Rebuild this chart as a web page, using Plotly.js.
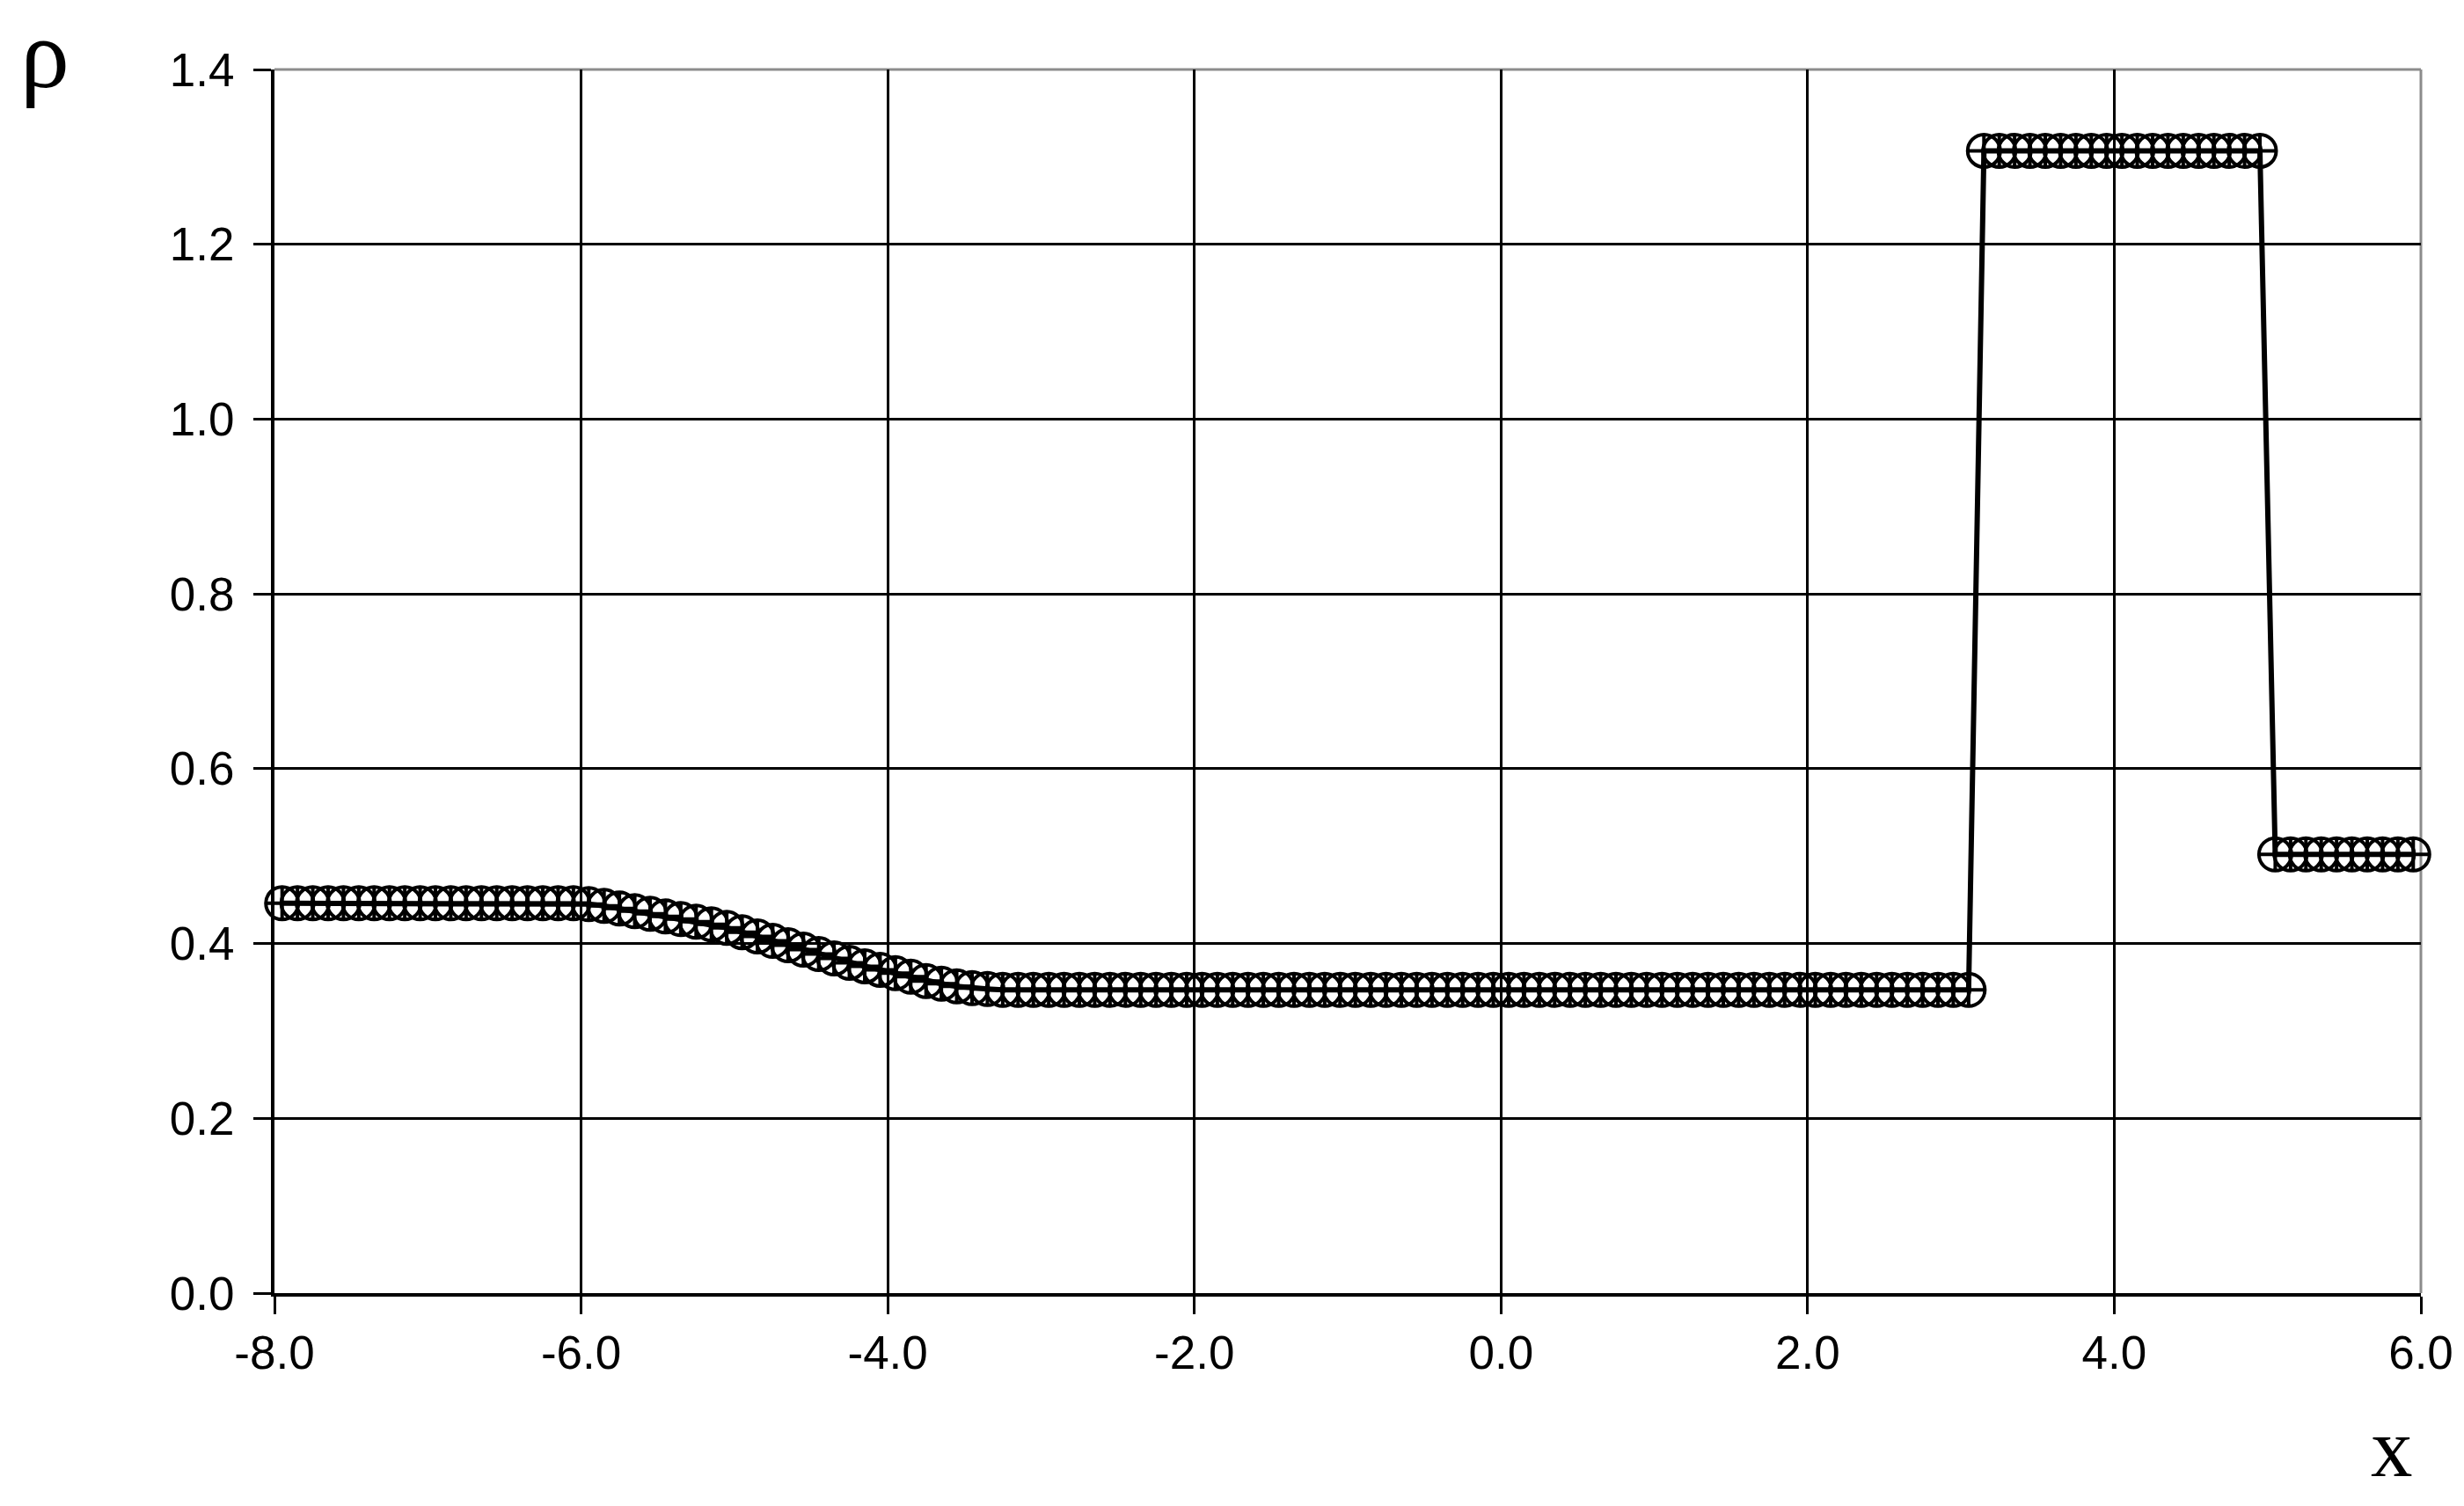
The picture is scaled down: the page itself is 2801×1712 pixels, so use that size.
<!DOCTYPE html>
<html>
<head>
<meta charset="utf-8">
<script src="https://cdn.plot.ly/plotly-3.0.1.min.js"></script>
<style>
  html, body { margin: 0; padding: 0; background: #ffffff; }
  #chart { width: 2801px; height: 1712px; }
</style>
</head>
<body>
<div id="chart"></div>
<script>
// Cell-centre positions of the solution
const xPositions = [
  -7.95, -7.85, -7.75, -7.65, -7.55, -7.45, -7.35, -7.25, -7.15, -7.05,
  -6.95, -6.85, -6.75, -6.65, -6.55, -6.45, -6.35, -6.25, -6.15, -6.05,
  -5.95, -5.85, -5.75, -5.65, -5.55, -5.45, -5.35, -5.25, -5.15, -5.05,
  -4.95, -4.85, -4.75, -4.65, -4.55, -4.45, -4.35, -4.25, -4.15, -4.05,
  -3.95, -3.85, -3.75, -3.65, -3.55, -3.45, -3.35, -3.25, -3.15, -3.05,
  -2.95, -2.85, -2.75, -2.65, -2.55, -2.45, -2.35, -2.25, -2.15, -2.05,
  -1.95, -1.85, -1.75, -1.65, -1.55, -1.45, -1.35, -1.25, -1.15, -1.05,
  -0.95, -0.85, -0.75, -0.65, -0.55, -0.45, -0.35, -0.25, -0.15, -0.05,
   0.05,  0.15,  0.25,  0.35,  0.45,  0.55,  0.65,  0.75,  0.85,  0.95,
   1.05,  1.15,  1.25,  1.35,  1.45,  1.55,  1.65,  1.75,  1.85,  1.95,
   2.05,  2.15,  2.25,  2.35,  2.45,  2.55,  2.65,  2.75,  2.85,  2.95,
   3.05,  3.15,  3.25,  3.35,  3.45,  3.55,  3.65,  3.75,  3.85,  3.95,
   4.05,  4.15,  4.25,  4.35,  4.45,  4.55,  4.65,  4.75,  4.85,  4.95,
   5.05,  5.15,  5.25,  5.35,  5.45,  5.55,  5.65,  5.75,  5.85,  5.95
];

// Density rho
const rhoValues = [
  0.446, 0.446, 0.446, 0.446, 0.446, 0.446, 0.446, 0.446, 0.446, 0.446,
  0.446, 0.446, 0.446, 0.446, 0.446, 0.446, 0.446, 0.446, 0.446, 0.446,
  0.445, 0.443, 0.440, 0.437, 0.434, 0.431, 0.428, 0.425, 0.422, 0.418,
  0.413, 0.408, 0.403, 0.398, 0.393, 0.388, 0.383, 0.378, 0.374, 0.370,
  0.366, 0.362, 0.357, 0.354, 0.351, 0.349, 0.348, 0.347, 0.347, 0.347,
  0.347, 0.347, 0.347, 0.347, 0.347, 0.347, 0.347, 0.347, 0.347, 0.347,
  0.347, 0.347, 0.347, 0.347, 0.347, 0.347, 0.347, 0.347, 0.347, 0.347,
  0.347, 0.347, 0.347, 0.347, 0.347, 0.347, 0.347, 0.347, 0.347, 0.347,
  0.347, 0.347, 0.347, 0.347, 0.347, 0.347, 0.347, 0.347, 0.347, 0.347,
  0.347, 0.347, 0.347, 0.347, 0.347, 0.347, 0.347, 0.347, 0.347, 0.347,
  0.347, 0.347, 0.347, 0.347, 0.347, 0.347, 0.347, 0.347, 0.347, 0.347,
  0.347, 1.307, 1.307, 1.307, 1.307, 1.307, 1.307, 1.307, 1.307, 1.307,
  1.307, 1.307, 1.307, 1.307, 1.307, 1.307, 1.307, 1.307, 1.307, 1.307,
  0.502, 0.502, 0.502, 0.502, 0.502, 0.502, 0.502, 0.502, 0.502, 0.502
];

const xTickValues = [-8, -6, -4, -2, 0, 2, 4, 6];
const xTickLabels = ['-8.0', '-6.0', '-4.0', '-2.0', '0.0', '2.0', '4.0', '6.0'];
const yTickValues = [0, 0.2, 0.4, 0.6, 0.8, 1.0, 1.2, 1.4];
const yTickLabels = ['0.0', '0.2', '0.4', '0.6', '0.8', '1.0', '1.2', '1.4'];

const yTitleText = 'ρ';
const xTitleText = 'x';

const tickFont = { family: '"Liberation Sans", Arial, sans-serif', size: 53, color: '#000000' };

const trace = {
  x: xPositions,
  y: rhoValues,
  type: 'scatter',
  mode: 'lines+markers',
  cliponaxis: false,
  line: { color: '#000000', width: 6 },
  marker: {
    symbol: 'circle-cross-open',
    size: 37,
    color: '#000000',
    line: { color: '#000000', width: 4 }
  },
  hoverinfo: 'skip'
};

const axisCommon = {
  showgrid: true,
  gridcolor: '#000000',
  gridwidth: 3,
  showline: true,
  linecolor: '#000000',
  linewidth: 4,
  ticks: 'outside',
  ticklen: 20,
  tickwidth: 3,
  tickcolor: '#000000',
  zeroline: false,
  tickfont: tickFont,
  tickmode: 'array',
  layer: 'below traces'
};

const layout = {
  width: 2801,
  height: 1712,
  paper_bgcolor: '#ffffff',
  plot_bgcolor: '#ffffff',
  showlegend: false,
  margin: { l: 312, r: 49, t: 79, b: 242, pad: 0 },
  xaxis: Object.assign({}, axisCommon, {
    range: [-8, 6],
    tickvals: xTickValues,
    ticktext: xTickLabels,
    ticklabelstandoff: -2
  }),
  yaxis: Object.assign({}, axisCommon, {
    range: [0, 1.4],
    tickvals: yTickValues,
    ticktext: yTickLabels,
    ticklabelstandoff: 11
  }),
  shapes: [
    { type: 'line', xref: 'paper', yref: 'paper', x0: 0, x1: 1, y0: 1, y1: 1,
      line: { color: '#8c8c8c', width: 3 }, layer: 'between' },
    { type: 'line', xref: 'paper', yref: 'paper', x0: 1, x1: 1, y0: 0, y1: 1,
      line: { color: '#8c8c8c', width: 3 }, layer: 'between' }
  ],
  annotations: [
    { text: yTitleText, xref: 'paper', yref: 'paper', x: -0.107, y: 1.013,
      xanchor: 'center', yanchor: 'middle', showarrow: false,
      font: { family: '"Liberation Serif", "Times New Roman", serif', size: 112, color: '#000000' } },
    { text: xTitleText, xref: 'paper', yref: 'paper', x: 0.9865, y: -0.1265,
      xanchor: 'center', yanchor: 'middle', showarrow: false,
      font: { family: '"Liberation Serif", "Times New Roman", serif', size: 95, color: '#000000' } }
  ]
};

Plotly.newPlot('chart', [trace], layout, { displayModeBar: false, staticPlot: true });
</script>
</body>
</html>
